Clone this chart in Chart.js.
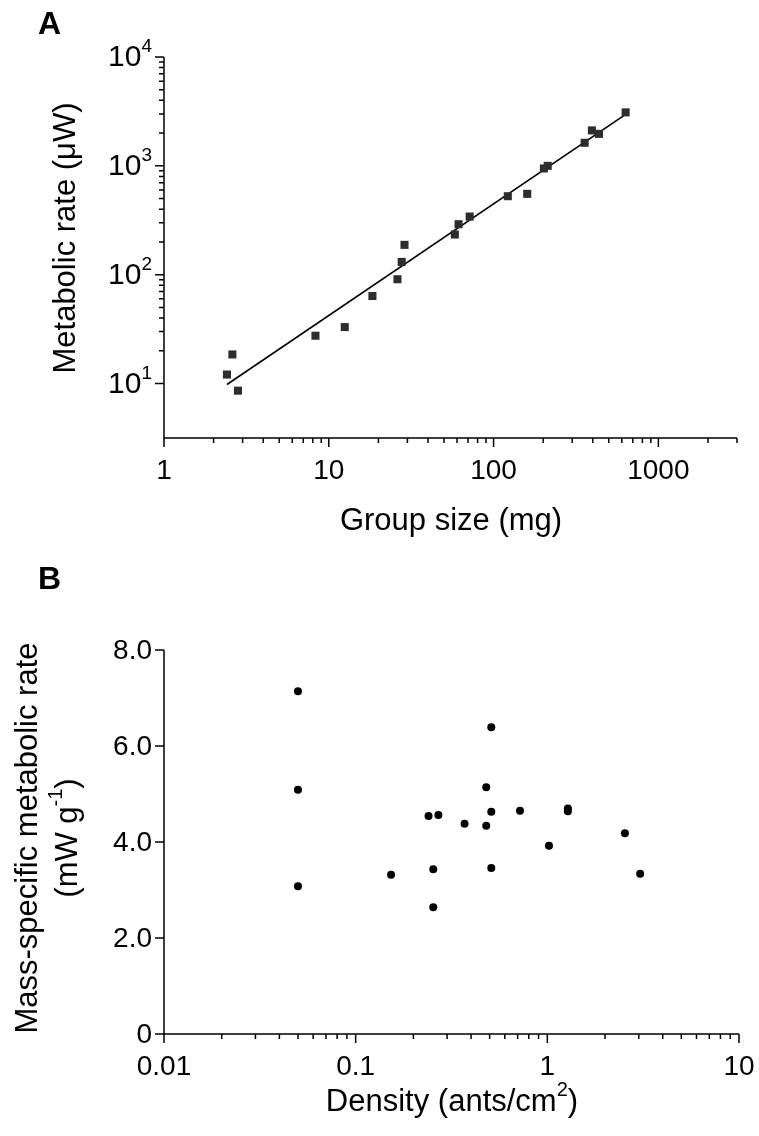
<!DOCTYPE html>
<html>
<head>
<meta charset="utf-8">
<script src="https://cdn.jsdelivr.net/npm/chart.js@4.4.0/dist/chart.umd.min.js"></script>
<style>
  body { margin: 0; background: #fff; }
  #wrap { position: relative; width: 759px; height: 1136px; }
  canvas { position: absolute; left: 0; }
</style>
</head>
<body>
<div id="wrap">
  <canvas id="chartA" width="759" height="560" style="top:0"></canvas>
  <canvas id="chartB" width="759" height="576" style="top:560px"></canvas>
</div>
<script>
// Panel A: metabolic rate vs group size (log-log)
const groupSize = [2.41, 2.60, 2.81, 8.3, 12.5, 18.4, 26.1, 27.7, 28.8, 58.2, 61.3, 71.6, 122, 160, 202, 213, 357, 395, 436, 633];
const metabolicRate = [12.1, 18.5, 8.6, 27.5, 33.0, 63.7, 90.8, 131, 188, 234, 291, 342, 526, 553, 946, 1000, 1629, 2117, 1968, 3100];
const fitX = [2.41, 633];
const fitY = [9.8, 2970];
const xMajorA = [1, 10, 100, 1000];
const xMinorA = [2, 3, 4, 5, 6, 7, 8, 9, 20, 30, 40, 50, 60, 70, 80, 90, 200, 300, 400, 500, 600, 700, 800, 900, 2000, 3000];
const yMajorA = [10, 100, 1000, 10000];
const yMinorA = [20, 30, 40, 50, 60, 70, 80, 90, 200, 300, 400, 500, 600, 700, 800, 900, 2000, 3000, 4000, 5000, 6000, 7000, 8000, 9000];

// Panel B: mass-specific metabolic rate vs density
const density = [0.05, 0.05, 0.05, 0.51, 0.48, 0.24, 0.27, 0.37, 0.48, 0.51, 0.72, 1.28, 1.28, 2.54, 1.02, 0.153, 0.254, 0.51, 3.05, 0.254];
const massRate = [7.14, 5.09, 3.08, 6.39, 5.14, 4.54, 4.56, 4.38, 4.34, 4.63, 4.65, 4.70, 4.64, 4.18, 3.92, 3.32, 3.43, 3.46, 3.34, 2.64];
const xMajorB = [0.01, 0.1, 1, 10];
const xLabelsB = ['0.01', '0.1', '1', '10'];
const xMinorB = [0.02, 0.03, 0.04, 0.05, 0.06, 0.07, 0.08, 0.09, 0.2, 0.3, 0.4, 0.5, 0.6, 0.7, 0.8, 0.9, 2, 3, 4, 5, 6, 7, 8, 9];
const yMajorB = [0, 2, 4, 6, 8];
const yLabelsB = ['0', '2.0', '4.0', '6.0', '8.0'];

const FONT = '"Liberation Sans", Arial, sans-serif';

// draw a run of text pieces (some superscript), centred at cx,cy, optionally rotated
function drawRich(ctx, parts, cx, cy, size, rotate, align) {
  ctx.save();
  ctx.translate(cx, cy);
  if (rotate) ctx.rotate(-Math.PI / 2);
  ctx.textBaseline = 'middle';
  ctx.textAlign = 'left';
  let total = 0;
  const widths = parts.map(p => {
    ctx.font = (p.sup ? Math.round(size * 0.64) : size) + 'px ' + FONT;
    const w = ctx.measureText(p.t).width;
    total += w;
    return w;
  });
  let x = align === 'right' ? -total : -total / 2;
  parts.forEach((p, i) => {
    ctx.font = (p.sup ? Math.round(size * 0.64) : size) + 'px ' + FONT;
    ctx.fillText(p.t, x, p.sup ? -size * 0.36 : 0);
    x += widths[i];
  });
  ctx.restore();
}

const axesPlugin = {
  id: 'axes',
  afterDraw(chart, args, o) {
    const ctx = chart.ctx;
    const xs = chart.scales.x, ys = chart.scales.y;
    const a = chart.chartArea;
    ctx.save();
    ctx.strokeStyle = '#000';
    ctx.fillStyle = '#000';
    ctx.lineWidth = 1.5;
    ctx.beginPath();
    ctx.moveTo(a.left, a.top);
    ctx.lineTo(a.left, a.bottom);
    ctx.lineTo(a.right, a.bottom);
    ctx.stroke();

    ctx.beginPath();
    o.xMajor.forEach(v => { const p = xs.getPixelForValue(v); ctx.moveTo(p, a.bottom); ctx.lineTo(p, a.bottom + 9); });
    o.xMinor.forEach(v => { const p = xs.getPixelForValue(v); ctx.moveTo(p, a.bottom); ctx.lineTo(p, a.bottom + 5); });
    o.yMajor.forEach(v => { const p = ys.getPixelForValue(v); ctx.moveTo(a.left, p); ctx.lineTo(a.left - 9, p); });
    o.yMinor.forEach(v => { const p = ys.getPixelForValue(v); ctx.moveTo(a.left, p); ctx.lineTo(a.left - 5, p); });
    ctx.stroke();

    o.xMajor.forEach((v, i) => {
      drawRich(ctx, [{ t: o.xLabels[i] }], xs.getPixelForValue(v), a.bottom + 33, 28, false);
    });
    o.yMajor.forEach((v, i) => {
      drawRich(ctx, o.yLabels[i], a.left - 12, ys.getPixelForValue(v) + 1, o.yFont, false, 'right');
    });

    ctx.font = 'bold 32px ' + FONT;
    ctx.textBaseline = 'alphabetic';
    ctx.fillText(o.panel, 38, o.panelY);
    o.titles.forEach(t => drawRich(ctx, t.parts, t.x, t.y, 31, t.rotate));
    ctx.restore();
  }
};

new Chart(document.getElementById('chartA'), {
  type: 'scatter',
  data: {
    datasets: [
      {
        data: groupSize.map((x, i) => ({ x: x, y: metabolicRate[i] })),
        pointStyle: 'rect',
        pointRadius: 5.7,
        backgroundColor: '#2d2d2d',
        borderWidth: 0
      },
      {
        data: fitX.map((x, i) => ({ x: x, y: fitY[i] })),
        showLine: true,
        borderColor: '#000',
        borderWidth: 1.6,
        pointRadius: 0
      }
    ]
  },
  options: {
    responsive: false,
    animation: false,
    layout: { padding: { left: 164, right: 22, top: 57, bottom: 122 } },
    plugins: {
      legend: { display: false },
      tooltip: { enabled: false },
      axes: {
        panel: 'A', panelY: 34, yFont: 30,
        xMajor: xMajorA, xMinor: xMinorA, xLabels: xMajorA.map(String),
        yMajor: yMajorA, yMinor: yMinorA,
        yLabels: yMajorA.map(v => [{ t: '10' }, { t: String(Math.round(Math.log10(v))), sup: true }]),
        titles: [
          { parts: [{ t: 'Metabolic rate (\u03bcW)' }], x: 66, y: 238, rotate: true },
          { parts: [{ t: 'Group size (mg)' }], x: 451, y: 521 }
        ]
      }
    },
    scales: {
      x: { type: 'logarithmic', min: 1, max: 3000, display: false },
      y: { type: 'logarithmic', min: 3.16, max: 10000, display: false }
    }
  },
  plugins: [axesPlugin]
});

new Chart(document.getElementById('chartB'), {
  type: 'scatter',
  data: {
    datasets: [{
      data: density.map((x, i) => ({ x: x, y: massRate[i] })),
      pointStyle: 'circle',
      pointRadius: 4,
      backgroundColor: '#000',
      borderWidth: 0
    }]
  },
  options: {
    responsive: false,
    animation: false,
    layout: { padding: { left: 164, right: 20, top: 90, bottom: 102 } },
    plugins: {
      legend: { display: false },
      tooltip: { enabled: false },
      axes: {
        panel: 'B', panelY: 29, yFont: 28,
        xMajor: xMajorB, xMinor: xMinorB, xLabels: xLabelsB,
        yMajor: yMajorB, yMinor: [],
        yLabels: yLabelsB.map(s => [{ t: s }]),
        titles: [
          { parts: [{ t: 'Mass-specific metabolic rate' }], x: 28, y: 278, rotate: true },
          { parts: [{ t: '(mW g' }, { t: '-1', sup: true }, { t: ')' }], x: 68, y: 278, rotate: true },
          { parts: [{ t: 'Density (ants/cm' }, { t: '2', sup: true }, { t: ')' }], x: 452, y: 542 }
        ]
      }
    },
    scales: {
      x: { type: 'logarithmic', min: 0.01, max: 10, display: false },
      y: { min: 0, max: 8, display: false }
    }
  },
  plugins: [axesPlugin]
});
</script>
</body>
</html>
